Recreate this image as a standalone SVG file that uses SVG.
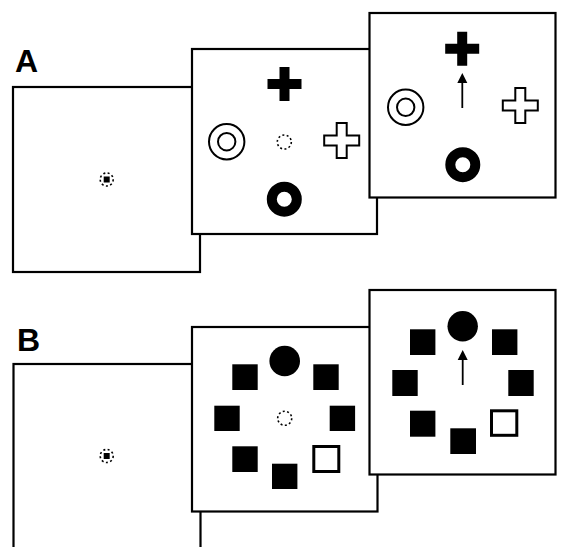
<svg xmlns="http://www.w3.org/2000/svg" width="562" height="547" viewBox="0 0 562 547">
<style>
.frame{fill:#fff;stroke:#000;stroke-width:2.2}
.label{font-family:"Liberation Sans",Arial,sans-serif;font-weight:bold;font-size:32px;fill:#000}
.dot{fill:none;stroke:#000;stroke-width:1.6;stroke-dasharray:2 2.4}
.ring2{fill:none;stroke:#000;stroke-width:2}
.thick{fill:none;stroke:#000;stroke-width:10}
.sq{fill:#000}
.osq{fill:#fff;stroke:#000;stroke-width:3}
.arrow{stroke:#000;stroke-width:1.8;fill:none}
</style>
<defs>
<path id="cross" d="M-5,-17 h10 v12 h12 v10 h-12 v12 h-10 v-12 h-12 v-10 h12 z" fill="#000"/>
<path id="ocross" d="M-5,-17.5 h10 v12.5 h12.5 v10 h-12.5 v12.5 h-10 v-12.5 h-12.5 v-10 h12.5 z" fill="#fff" stroke="#000" stroke-width="2"/>
<g id="dring"><circle r="17.7" class="ring2"/><circle r="8.7" class="ring2"/></g>
<g id="fix"><circle r="6.5" class="dot"/><rect x="-3" y="-3" width="6" height="6" fill="#000"/></g>
<g id="arr"><line x1="0" y1="0" x2="0" y2="-27" class="arrow"/><polygon points="0,-35 -5,-25 5,-25" fill="#000"/></g>
</defs>

<text class="label" x="15" y="72">A</text>
<text class="label" x="17" y="351">B</text>

<g id="A1">
<rect class="frame" x="13" y="87" width="187" height="185"/>
<use href="#fix" x="106.7" y="179.5"/>
</g>
<g id="A2">
<rect class="frame" x="192" y="49" width="185" height="185"/>
<use href="#cross" x="284.5" y="84"/>
<use href="#dring" x="226.7" y="141.7"/>
<circle cx="284.3" cy="142" r="7" class="dot"/>
<use href="#ocross" x="341.7" y="140.5"/>
<circle cx="284.3" cy="199.2" r="12.5" class="thick"/>
</g>
<g id="A3">
<rect class="frame" x="369.5" y="13" width="186" height="184.5"/>
<use href="#cross" x="462.2" y="48.7"/>
<use href="#dring" x="405.7" y="107.3"/>
<use href="#ocross" x="520.3" y="105.5"/>
<circle cx="462.8" cy="164.7" r="12.5" class="thick"/>
</g>

<g id="B1">
<rect class="frame" x="13.5" y="364" width="187" height="200"/>
<use href="#fix" x="106.7" y="456"/>
</g>
<g id="B2">
<rect class="frame" x="192" y="327" width="185.5" height="184.5"/>
<circle cx="284.7" cy="361" r="15.3" fill="#000"/>
<rect class="sq" x="232.3" y="364.3" width="25.4" height="25.7"/>
<rect class="sq" x="313.3" y="364.3" width="25.4" height="25.7"/>
<rect class="sq" x="214.3" y="405.7" width="25.4" height="25.3"/>
<rect class="sq" x="329.7" y="405.7" width="25.4" height="25.3"/>
<rect class="sq" x="232.3" y="446.3" width="25.4" height="25.7"/>
<rect class="sq" x="272" y="463.7" width="25.4" height="25.3"/>
<rect class="osq" x="313.8" y="446.5" width="25" height="25"/>
<circle cx="284.7" cy="418.3" r="7" class="dot"/>
</g>
<g id="B3">
<rect class="frame" x="369.5" y="290" width="186" height="184.5"/>
<circle cx="462.7" cy="326.3" r="15.2" fill="#000"/>
<rect class="sq" x="410" y="329.3" width="25.4" height="25.7"/>
<rect class="sq" x="492" y="329.3" width="25.4" height="25.7"/>
<rect class="sq" x="392.3" y="370" width="25.4" height="26"/>
<rect class="sq" x="508.3" y="370" width="25.4" height="26"/>
<rect class="sq" x="410" y="410.7" width="25.4" height="26"/>
<rect class="sq" x="450.3" y="428.3" width="25.7" height="25.7"/>
<rect class="osq" x="491.5" y="410.8" width="25.3" height="24.5"/>
</g>

<g id="connectors">
<use href="#arr" x="462.3" y="108"/>
<use href="#arr" x="462.7" y="385"/>
</g>
</svg>
